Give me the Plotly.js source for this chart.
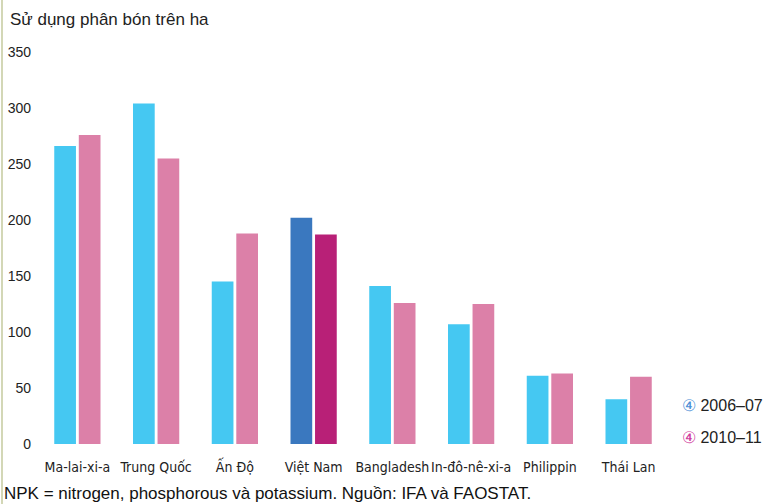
<!DOCTYPE html>
<html>
<head>
<meta charset="utf-8">
<script src="https://cdn.plot.ly/plotly-3.0.1.min.js"></script>
<style>
  html, body { margin: 0; padding: 0; background: #fff; }
  #wrap { position: relative; width: 765px; height: 504px; }
  #edge { position: absolute; left: 1px; top: 0; width: 2px; height: 504px; background: #d3d7b6; z-index: 5; }
  #chart { width: 765px; height: 504px; }
</style>
</head>
<body>
<div id="wrap"><div id="edge"></div><div id="chart"></div></div>
<script>
const categories = ["Ma-lai-xi-a", "Trung Quốc", "Ấn Độ", "Việt Nam", "Bangladesh", "In-đô-nê-xi-a", "Philippin", "Thái Lan"];
const seriesNames = ["2006–07", "2010–11"];
const values2006 = [266, 304, 145, 202, 141, 107, 61, 40];
const values2010 = [276, 255, 188, 187, 126, 125, 63, 60];
const yTicks = [0, 50, 100, 150, 200, 250, 300, 350];
const titleText = "Sử dụng phân bón trên ha";
const noteText = "NPK = nitrogen, phosphorous và potassium. Nguồn: IFA và FAOSTAT.";
const highlight = "Việt Nam";

const col06 = "#45c8f2", col10 = "#dc80a8";
const hi06 = "#3a78bf", hi10 = "#b82077";
const narrow = "DejaVu Sans Condensed, DejaVu Sans, sans-serif";
const regular = "Liberation Sans, Arial, sans-serif";

const traces = [
  { type: "bar", name: seriesNames[0], x: categories, y: values2006,
    marker: { color: categories.map(c => c === highlight ? hi06 : col06) }, hoverinfo: "x+y" },
  { type: "bar", name: seriesNames[1], x: categories, y: values2010,
    marker: { color: categories.map(c => c === highlight ? hi10 : col10) }, hoverinfo: "x+y" }
];

const layout = {
  width: 765, height: 504,
  margin: { l: 38, r: 97, t: 52, b: 60 },
  paper_bgcolor: "#fff", plot_bgcolor: "#fff",
  showlegend: false,
  barmode: "group", bargap: 0.377, bargroupgap: 0.115,
  font: { family: regular, color: "#222", size: 14 },
  xaxis: { showgrid: false, zeroline: false, showline: false, ticks: "", tickangle: 0,
           tickfont: { family: narrow, size: 14, color: "#222" }, ticklabelstandoff: 13, range: [-0.5, 7.5] },
  yaxis: { range: [0, 350], tickvals: yTicks, showgrid: false, zeroline: false, showline: false, ticks: "",
           tickfont: { family: regular, size: 14, color: "#222" }, ticklabelstandoff: 6 },
  annotations: [
    { xref: "paper", yref: "paper", x: -38/630, y: (504-20-60)/392, xanchor: "left", yanchor: "middle",
      text: titleText, showarrow: false, xshift: 8, font: { family: regular, size: 17, color: "#222" } },
    { xref: "paper", yref: "paper", x: -38/630, y: (504-493-60)/392, xanchor: "left", yanchor: "middle",
      text: noteText, showarrow: false, xshift: 2, font: { family: regular, size: 17, color: "#111" } },
    { xref: "paper", yref: "y", x: 1, y: 0, xanchor: "left", yanchor: "middle", xshift: 12, yshift: 39,
      text: "<span style='color:#4a8fd6'>④</span> " + seriesNames[0], showarrow: false,
      font: { family: regular, size: 16, color: "#222" } },
    { xref: "paper", yref: "y", x: 1, y: 0, xanchor: "left", yanchor: "middle", xshift: 12, yshift: 7,
      text: "<span style='color:#d0389c'>④</span> " + seriesNames[1], showarrow: false,
      font: { family: regular, size: 16, color: "#222" } }
  ]
};

Plotly.newPlot("chart", traces, layout, { displayModeBar: false, staticPlot: true });
</script>
</body>
</html>
